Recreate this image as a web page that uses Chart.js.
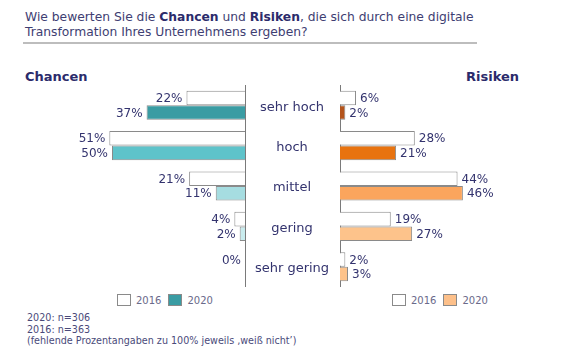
<!DOCTYPE html>
<html><head><meta charset="utf-8">
<script src="https://cdn.jsdelivr.net/npm/chart.js@4.4.0/dist/chart.umd.min.js"></script>
<style>
body{margin:0;background:#fff;width:570px;height:350px;position:relative;overflow:hidden;font-family:"DejaVu Sans",Verdana,sans-serif;}
.abs{position:absolute;}
#title{left:25px;top:10px;font-size:12.3px;line-height:15px;color:#3e3e72;}
#title b{color:#2b2b6b;}
#rule{left:23px;top:42px;width:454px;height:2px;background:#bdbdbd;}
.head{top:69px;font-size:13px;font-weight:bold;color:#2b2b6b;}
.leg{top:294px;font-size:10px;color:#6a6a8a;display:flex;align-items:center;}
.box{width:12px;height:10px;border:1px solid #8a8a8a;margin-right:5px;}
#foot{left:27px;top:312px;font-size:9.6px;line-height:11.5px;color:#4a4a7a;}
canvas{position:absolute;}
</style></head>
<body>
<div id="title" class="abs">Wie bewerten Sie die <b>Chancen</b> und <b>Risiken</b>, die sich durch eine digitale<br>Transformation Ihres Unternehmens ergeben?</div>
<div id="rule" class="abs"></div>
<div class="abs head" style="left:25px">Chancen</div>
<div class="abs head" style="left:466px">Risiken</div>
<div class="abs leg" style="left:117px"><span class="box" style="background:#fff"></span>2016<span class="box" style="background:#3a9ca3;margin-left:7px"></span>2020</div>
<div class="abs leg" style="left:392px"><span class="box" style="background:#fff"></span>2016<span class="box" style="background:#fdc08a;margin-left:7px"></span>2020</div>
<div id="foot" class="abs">2020: n=306<br>2016: n=363<br>(fehlende Prozentangaben zu 100% jeweils ‚weiß nicht’)</div>
<canvas id="cL" width="340" height="202" style="left:0;top:85px"></canvas>
<canvas id="cR" width="240" height="202" style="left:330px;top:85px"></canvas>
<script>
const categories = ["sehr hoch","hoch","mittel","gering","sehr gering"];
const chancen2016 = [22,51,21,4,0];
const chancen2020 = [37,50,11,2,null];
const risiken2016 = [6,28,44,19,2];
const risiken2020 = [2,21,46,27,3];
const chancenColors = ["#3a9ca3","#5ec3ca","#a6dde1","#c9ecee","#c9ecee"];
const risikenColors = ["#b4541b","#e8730f","#fba55d","#fdc38b","#fdc38b"];

const textColor = "#33336e";
const labelPlugin = {
  id:'vals',
  afterDatasetsDraw(chart, args, opts){
    const ctx = chart.ctx;
    ctx.save();
    ctx.font = '12px "DejaVu Sans", Verdana, sans-serif';
    ctx.fillStyle = textColor;
    ctx.textBaseline = 'middle';
    chart.data.datasets.forEach((ds,i)=>{
      const meta = chart.getDatasetMeta(i);
      meta.data.forEach((el,j)=>{
        const v = ds.data[j];
        if(v===null||v===undefined) return;
        if(opts.side==='left'){ ctx.textAlign='right'; ctx.fillText(v+'%', el.x-4, el.y+1); }
        else { ctx.textAlign='left'; ctx.fillText(v+'%', el.x+4, el.y+1); }
      });
    });
    if(opts.cats){
      const ys = chart.scales.y;
      ctx.font = '13px "DejaVu Sans", Verdana, sans-serif';
      ctx.textAlign='center';
      ctx.fillStyle = "#33336e";
      categories.forEach((c,j)=>{
        ctx.fillText(c, chart.chartArea.right+47, ys.getPixelForValue(j)+2);
      });
    }
    ctx.restore();
  }
};

function makeChart(id, d16, d20, colors, side, max){
  return new Chart(document.getElementById(id), {
    type:'bar',
    data:{labels:categories, datasets:[
      {label:'2016', data:d16, backgroundColor:'#ffffff', borderColor:'#8a8a8a', borderWidth:1, borderSkipped:'start'},
      {label:'2020', data:d20, backgroundColor:colors, borderColor:'#8a8a8a', borderWidth:1, borderSkipped:'start'}
    ]},
    options:{
      indexAxis:'y', responsive:false, animation:false, devicePixelRatio:1,
      categoryPercentage:0.72, barPercentage:1,
      layout:{padding:0},
      plugins:{legend:{display:false}, tooltip:{enabled:false}, vals:{side:side, cats:side==='left'}},
      scales:{
        x:{display:false, min:0, max:max, reverse:side==='left'},
        y:{position:side==='left'?'right':'left', grid:{display:false, drawTicks:false},
           border:{display:true,color:'#7a7a7a',width:1}, ticks:{display:false},
           afterFit(s){ s.width = side==='left'?95:10; }}
      }
    },
    plugins:[labelPlugin]
  });
}
makeChart('cL', chancen2016, chancen2020, chancenColors, 'left', 92.1);
makeChart('cR', risiken2016, risiken2020, risikenColors, 'right', 86.1);
</script>
</body></html>
